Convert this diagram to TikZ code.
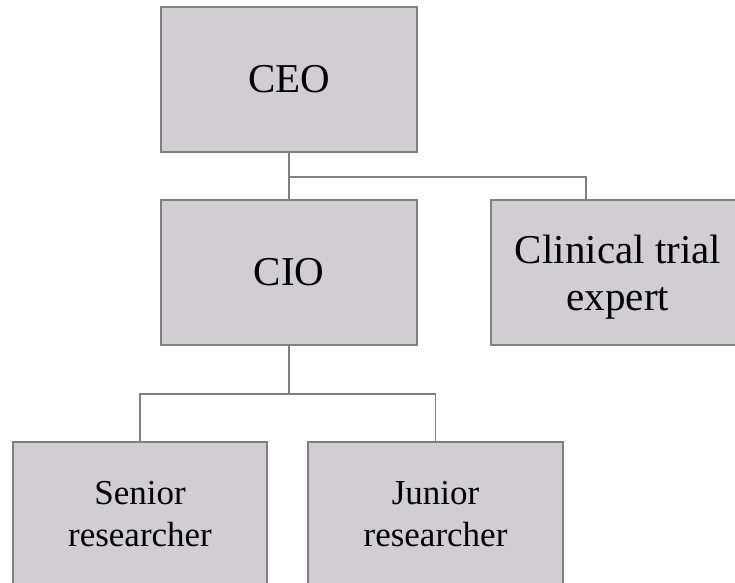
\documentclass[tikz,border=0pt]{standalone}
\usepackage{fontspec}
\setmainfont{Liberation Serif}
\definecolor{boxfill}{RGB}{208,206,208}
\definecolor{boxline}{RGB}{128,128,128}
\begin{document}
\begin{tikzpicture}[x=1pt,y=-1pt,
  post/.style={draw=boxline, fill=boxfill, line width=1.3pt,
    inner sep=0pt, align=center, text=black, minimum height=145pt},
  big/.style={post, font=\fontsize{41}{47}\selectfont},
  small/.style={post, font=\fontsize{35}{42}\selectfont},
  link/.style={draw=boxline, line width=1.3pt}]
  \useasboundingbox (0,0) rectangle (735,582);
  \clip (0,0) rectangle (735,582);

  % top level and second level
  \node[big, minimum width=256pt] (ceo) at (289,79.5) {CEO};
  \node[big, minimum width=256pt] (cio) at (289,272.5) {CIO};
  \node[big, minimum width=254pt] (cte) at (618,272.5)
       {\rule{0pt}{37pt}Clinical trial\\expert};

  % researchers
  \node[small, minimum width=254pt] (sen) at (140,514.5)
       {Senior\\researcher};
  \node[small, minimum width=255pt] (jun) at (435.5,514.5)
       {Junior\\researcher};

  % branch points
  \coordinate (j1) at (289,177);
  \coordinate (j2) at (289,394);

  \draw[link] (ceo.south) -- (cio.north);
  \draw[link] (j1) -| ([xshift=-32pt]cte.north);
  \draw[link] (cio.south) -- (j2);
  \draw[link] (sen.north) |- (j2) -| (jun.north);
\end{tikzpicture}
\end{document}
